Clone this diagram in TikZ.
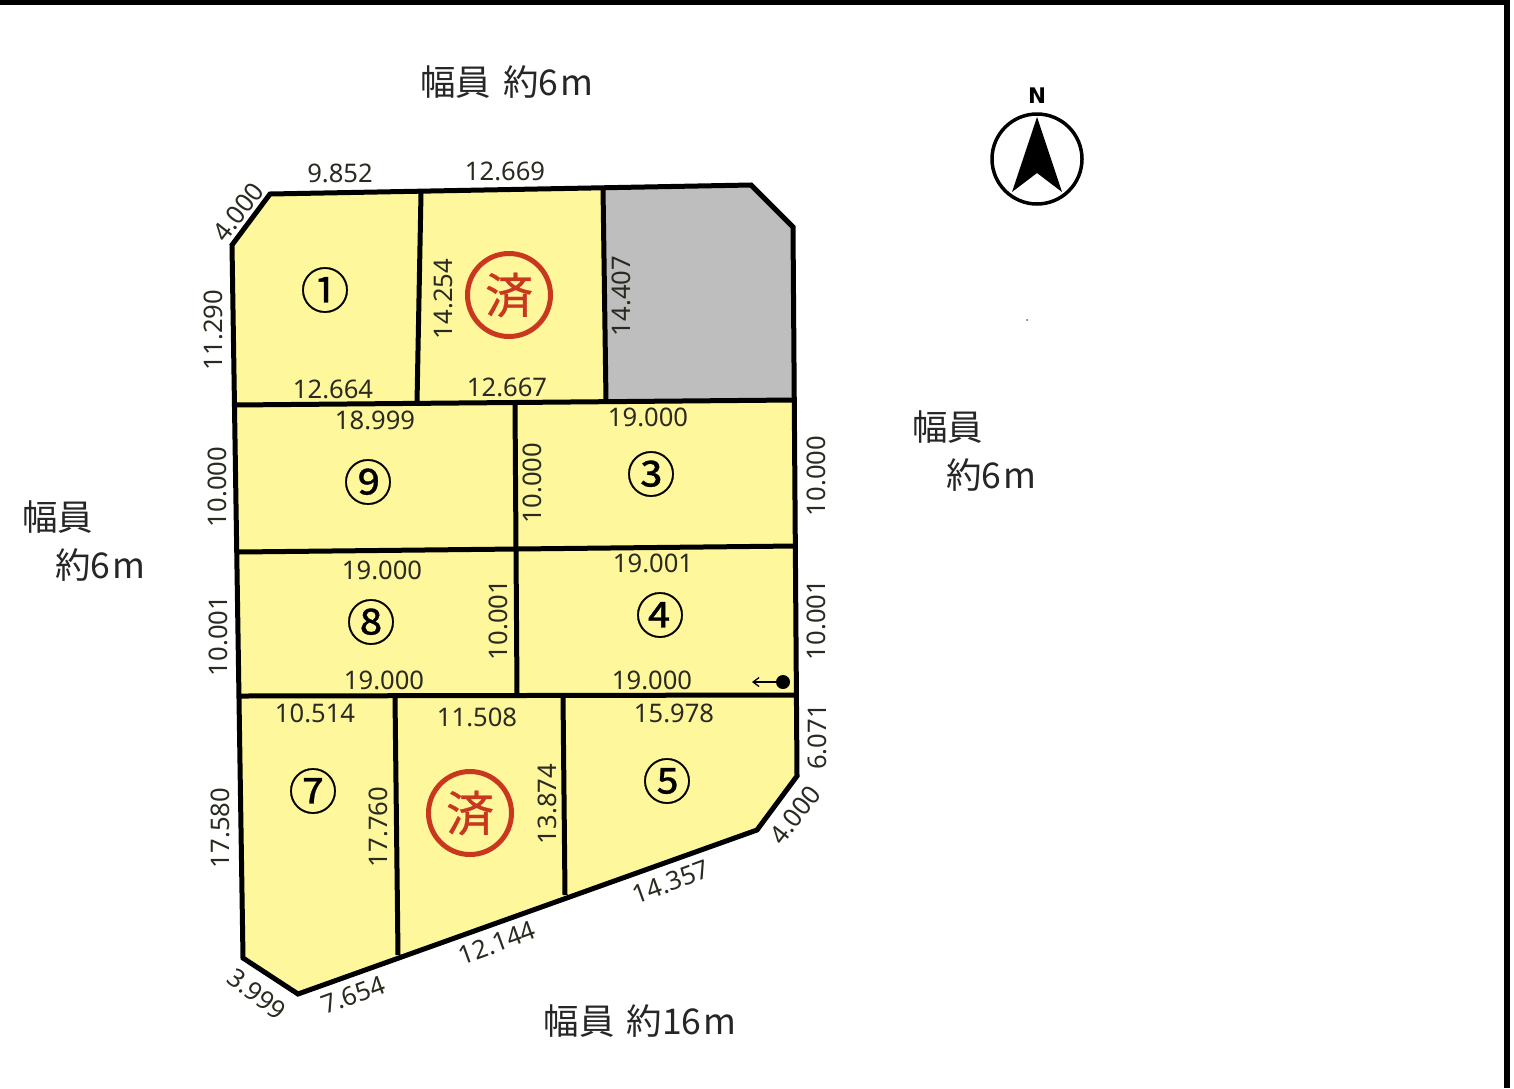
\documentclass[tikz,border=0pt]{standalone}
\usepackage{fontspec}
\usetikzlibrary{arrows.meta}
\setmainfont{Noto Sans}
\newfontfamily\cjk{Noto Sans CJK JP}
\newfontfamily\cjkheavy{Noto Sans CJK JP}[FakeBold=0.6]
\newfontfamily\northfont{DejaVu Sans}
\definecolor{lotyellow}{HTML}{FFF79B}
\definecolor{lotgray}{HTML}{BEBEBE}
\definecolor{stampred}{HTML}{C9371F}
\definecolor{dimtext}{HTML}{2A2A20}
\newcommand{\wordgap}{\kern12pt\relax}
\tikzset{
  dim/.style={font=\fontsize{25.6}{26}\selectfont, text=dimtext, inner sep=0pt},
  road/.style={font=\cjk\fontsize{35.5}{36}\selectfont, text=black!85, inner sep=0pt},
  lotnum/.style={font=\cjkheavy\fontsize{49}{49}\selectfont, text=black, inner sep=0pt},
  stampring/.style={circle, draw=stampred, line width=5pt, minimum size=83pt, inner sep=0pt,
    font=\cjkheavy\fontsize{48}{48}\selectfont, text=stampred},
  lotline/.style={line width=5pt, line join=miter, black},
}
\begin{document}
\begin{tikzpicture}[x=1pt,y=-1pt]
\useasboundingbox (0,0) rectangle (1514,1088);
\fill[white] (0,0) rectangle (1514,1088);
% frame
\fill[black] (0,0) rectangle (1510,5);
\fill[black] (1504,0) rectangle (1510,1088);
% lots
\fill[lotyellow] (270,194) -- (751,185) -- (793,227) -- (797,776) -- (757,830) -- (298,994) -- (243,958) -- (232,245) -- cycle;
\fill[lotgray] (603,188) -- (751,185) -- (793,227) -- (793,400) -- (606,401) -- cycle;
% boundary corners
\coordinate (a1) at (270,194); \coordinate (a2) at (751,185); \coordinate (a3) at (793,227);
\coordinate (a4) at (797,776); \coordinate (a5) at (757,830); \coordinate (a6) at (298,994);
\coordinate (a7) at (243,958); \coordinate (a8) at (232,245);
\draw[lotline] (a1) -- (a2) -- (a3) -- (a4) -- (a5) -- (a6) -- (a7) -- (a8) -- cycle;
% dividers
\draw[lotline] (234,405) -- (793,400);
\draw[lotline] (238,552) -- (795,546);
\draw[lotline] (240,696) -- (796,695);
\draw[lotline] (421,193) -- (417,403);
\draw[lotline] (603,188) -- (606,401);
\draw[lotline] (515,404) -- (517,694);
\draw[lotline] (395,697) -- (398,955);
\draw[lotline] (563,696) -- (565,895);
% lot numbers
\node[lotnum] (n1) at (325,290) {①};
\node[lotnum] (n9) at (368,482) {⑨};
\node[lotnum] (n3) at (651,474) {③};
\node[lotnum] (n8) at (371,622) {⑧};
\node[lotnum] (n4) at (660,615) {④};
\node[lotnum] (n7) at (313,791) {⑦};
\node[lotnum] (n5) at (667,781) {⑤};
% stamps
\node[stampring] (s1) at (509,295) {済};
\node[stampring] (s2) at (470,813) {済};
% dims
\node[dim] (d01) at (340,173) {9.852};
\node[dim] (d02) at (505,171) {12.669};
\node[dim,rotate=52] (d03) at (238,212) {4.000};
\node[dim,rotate=90] (d04) at (213,330) {11.290};
\node[dim,rotate=90] (d05) at (443,299) {14.254};
\node[dim,rotate=90] (d06) at (621,296) {14.407};
\node[dim] (d07) at (333,389) {12.664};
\node[dim] (d08) at (507,387) {12.667};
\node[dim] (d09) at (375,420) {18.999};
\node[dim] (d10) at (648,417) {19.000};
\node[dim,rotate=90] (d11) at (217,487) {10.000};
\node[dim,rotate=90] (d12) at (532,483) {10.000};
\node[dim,rotate=90] (d13) at (816,476) {10.000};
\node[dim] (d14) at (382,570) {19.000};
\node[dim] (d15) at (653,563) {19.001};
\node[dim,rotate=90] (d16) at (218,636) {10.001};
\node[dim,rotate=90] (d17) at (498,620) {10.001};
\node[dim,rotate=90] (d18) at (816,620) {10.001};
\node[dim] (d19) at (384,680) {19.000};
\node[dim] (d20) at (652,680) {19.000};
\node[dim] (d21) at (315,713) {10.514};
\node[dim] (d22) at (477,717) {11.508};
\node[dim] (d23) at (674,713) {15.978};
\node[dim,rotate=90] (d24) at (817,737) {6.071};
\node[dim,rotate=90] (d25) at (220,828) {17.580};
\node[dim,rotate=90] (d26) at (378,827) {17.760};
\node[dim,rotate=90] (d27) at (547,804) {13.874};
\node[dim,rotate=52] (d28) at (795,815) {4.000};
\node[dim,rotate=20] (d29) at (671,882) {14.357};
\node[dim,rotate=20] (d30) at (497,943) {12.144};
\node[dim,rotate=20] (d31) at (353,995) {7.654};
\node[dim,rotate=-37] (d32) at (257,994) {3.999};
% roads
\node[road] (r1) at (507,82) {幅員\wordgap 約6\kern2pt m};
\node[road,anchor=west] (r2) at (912,427) {幅員};
\node[road,anchor=west] (r3) at (946,475) {約6\kern2pt m};
\node[road,anchor=west] (r4) at (22,517) {幅員};
\node[road,anchor=west] (r5) at (55,565) {約6\kern2pt m};
\node[road] (r6) at (640,1021) {幅員\wordgap 約16\kern2pt m};
% marker
\node[circle,fill=black,minimum size=14pt,inner sep=0pt] (dot) at (783,682) {};
\coordinate (tip) at (752,682);
\draw[line width=1.3pt,-{Straight Barb[length=6pt,width=9pt]}] (dot) -- (tip);
% north
\node[circle,draw=black,line width=3.5pt,minimum size=90pt,inner sep=0pt] (compass) at (1037,159) {};
\fill[black] (1037,117) -- (1062,192) -- (1037,173) -- (1012,192) -- cycle;
\node[font=\northfont\bfseries\fontsize{21.5}{22}\selectfont,inner sep=0pt] (north) at (1037,96) {N};
\fill[black!60] (1027,320) circle (1pt);
\end{tikzpicture}
\end{document}
